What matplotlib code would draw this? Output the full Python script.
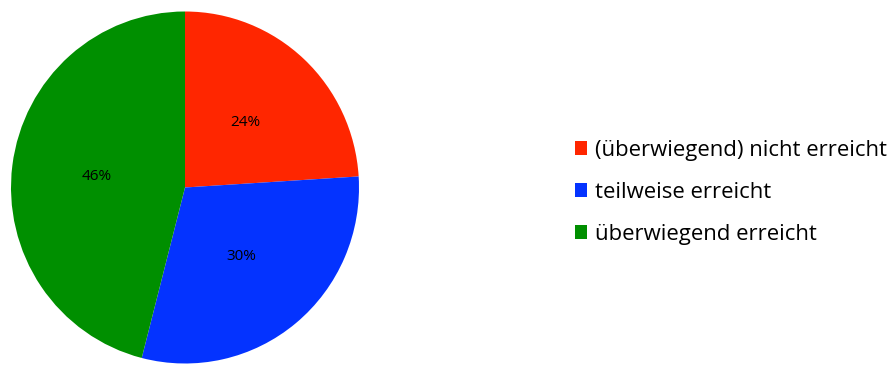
import matplotlib
matplotlib.use("Agg")
import matplotlib.pyplot as plt
from matplotlib.patches import Patch

labels = ["(überwiegend) nicht erreicht", "teilweise erreicht", "überwiegend erreicht"]
values = [24, 30, 46]
colors = ["#FF2600", "#0433FF", "#008F00"]

W, H = 891, 367
fig = plt.figure(figsize=(W / 100, H / 100), dpi=100)
cx, cy_top, rx, ry = 185, 187.5, 174, 176
cy = H - cy_top
ax = fig.add_axes([(cx - rx) / W, (cy - ry) / H, 2 * rx / W, 2 * ry / H])
ax.pie(values, colors=colors, startangle=90, counterclock=False,
       autopct="%d%%", pctdistance=0.51, radius=1,
       textprops=dict(fontsize=11, family="Open Sans", color="black"),
       wedgeprops=dict(linewidth=0))
ax.set_xlim(-1, 1)
ax.set_ylim(-1, 1)
ax.set_aspect("auto")
ax.axis("off")

handles = [Patch(facecolor=c, edgecolor="none") for c in colors]
fig.legend(handles, labels, loc="upper left", bbox_to_anchor=(555 / W, 1 - 120 / H),
           frameon=False, prop=dict(family="Open Sans", size=15.9),
           handlelength=0.54, handleheight=0.54, handletextpad=0.36, labelspacing=0.95)

fig.savefig("out.png", dpi=100)
